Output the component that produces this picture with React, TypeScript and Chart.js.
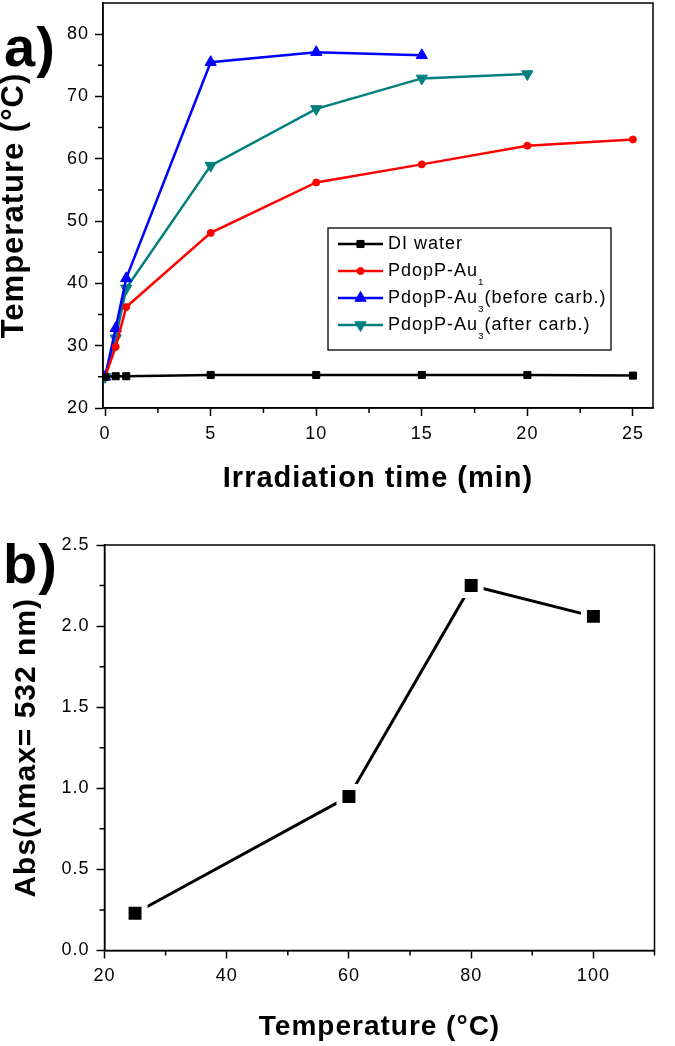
import React, { useEffect, useRef } from 'react';
import { Chart, registerables } from 'chart.js';

Chart.register(...registerables);

// ---------- Panel a data ----------
const TIME_MIN = [0, 0.5, 1, 5, 10, 15, 20, 25];
const DI_WATER = [25.0, 25.1, 25.1, 25.3, 25.3, 25.3, 25.3, 25.2];
const PDOPP_AU1 = [25.0, 29.8, 36.2, 48.1, 56.2, 59.1, 62.1, 63.1];
const TIME_AU3_BEFORE = [0, 0.5, 1, 5, 10, 15];
const PDOPP_AU3_BEFORE = [25.0, 32.8, 40.8, 75.5, 77.1, 76.6];
const TIME_AU3_AFTER = [0, 0.5, 1, 5, 10, 15, 20];
const PDOPP_AU3_AFTER = [25.0, 31.2, 39.2, 58.9, 68.0, 72.9, 73.6];
const SERIES_A_LABELS = ['DI water', 'PdopP-Au\u2081', 'PdopP-Au\u2083(before carb.)', 'PdopP-Au\u2083(after carb.)'];
const XA_TICKS = [0, 5, 10, 15, 20, 25];
const XA_MINOR = [2.5, 7.5, 12.5, 17.5, 22.5];
const YA_TICKS = [20, 30, 40, 50, 60, 70, 80];
const YA_MINOR = [25, 35, 45, 55, 65, 75];

// ---------- Panel b data ----------
const TEMP_C = [25, 60, 80, 100];
const ABS_532 = [0.23, 0.95, 2.25, 2.06];
const XB_TICKS = [20, 40, 60, 80, 100];
const XB_MINOR = [30, 50, 70, 90, 110];
const YB_TICKS = [0, 0.5, 1.0, 1.5, 2.0, 2.5];
const YB_MINOR = [0.25, 0.75, 1.25, 1.75, 2.25];

const FONT = '"Liberation Sans", Arial, Helvetica, sans-serif';
Chart.defaults.font.family = FONT;
Chart.defaults.color = '#000';

const pts = (xs: number[], ys: number[]) => xs.map((x, i) => ({ x, y: ys[i] }));

function drawMarker(ctx: CanvasRenderingContext2D, style: string, r: number, rotDeg: number, x: number, y: number, color: string) {
  ctx.save();
  ctx.fillStyle = color;
  ctx.strokeStyle = color;
  ctx.lineWidth = 1;
  ctx.beginPath();
  if (style === 'rect') {
    const s = r * Math.SQRT1_2;
    ctx.rect(x - s, y - s, 2 * s, 2 * s);
  } else if (style === 'triangle') {
    let rad = (rotDeg * Math.PI) / 180;
    ctx.moveTo(x + Math.sin(rad) * r, y - Math.cos(rad) * r);
    rad += (2 * Math.PI) / 3;
    ctx.lineTo(x + Math.sin(rad) * r, y - Math.cos(rad) * r);
    rad += (2 * Math.PI) / 3;
    ctx.lineTo(x + Math.sin(rad) * r, y - Math.cos(rad) * r);
    ctx.closePath();
  } else {
    ctx.arc(x, y, r, 0, Math.PI * 2);
  }
  ctx.fill();
  ctx.stroke();
  ctx.restore();
}

function drawRich(ctx: CanvasRenderingContext2D, text: string, x: number, y: number, size: number) {
  const runs: { t: string; sub: boolean }[] = [];
  let cur = '';
  let sub = false;
  for (const ch of text) {
    const code = ch.charCodeAt(0);
    const isSub = code >= 0x2080 && code <= 0x2089;
    const c = isSub ? String.fromCharCode(code - 0x2080 + 48) : ch;
    if (isSub !== sub && cur) {
      runs.push({ t: cur, sub });
      cur = '';
    }
    sub = isSub;
    cur += c;
  }
  if (cur) runs.push({ t: cur, sub });
  let cx = x;
  ctx.textAlign = 'left';
  ctx.textBaseline = 'middle';
  ctx.fillStyle = '#000';
  for (const r of runs) {
    ctx.font = `${r.sub ? size * 0.55 : size}px ${FONT}`;
    ctx.fillText(r.t, cx, r.sub ? y + size * 0.6 : y);
    cx += ctx.measureText(r.t).width;
  }
}

type FigOpts = {
  xMinor: number[];
  yMinor: number[];
  panel: { text: string; x: number; y: number; size: number };
  legend?: { x: number; y: number; w: number; h: number; firstRow: number; rowH: number; font: number };
};

function makeFigPlugin(o: FigOpts) {
  return {
    id: 'figStyle',
    beforeDraw(chart: any) {
      (chart.ctx as any).letterSpacing = '1px';
    },
    beforeDatasetsDraw(chart: any) {
      const { ctx, chartArea: ca } = chart;
      const xs = chart.scales.x;
      const ys = chart.scales.y;
      ctx.save();
      ctx.strokeStyle = '#000';
      ctx.lineWidth = 1.5;
      ctx.strokeRect(ca.left, ca.top, ca.right - ca.left, ca.bottom - ca.top);
      ctx.beginPath();
      o.xMinor.forEach((v) => {
        const p = xs.getPixelForValue(v);
        ctx.moveTo(p, ca.bottom);
        ctx.lineTo(p, ca.bottom + 5);
      });
      o.yMinor.forEach((v) => {
        const p = ys.getPixelForValue(v);
        ctx.moveTo(ca.left, p);
        ctx.lineTo(ca.left - 5, p);
      });
      ctx.stroke();
      ctx.fillStyle = '#000';
      ctx.font = `bold ${o.panel.size}px ${FONT}`;
      ctx.textAlign = 'left';
      ctx.textBaseline = 'alphabetic';
      ctx.fillText(o.panel.text, o.panel.x, o.panel.y);
      ctx.restore();
    },
    afterDatasetsDraw(chart: any) {
      const lg = o.legend;
      if (!lg) return;
      const ctx = chart.ctx as CanvasRenderingContext2D;
      ctx.save();
      ctx.fillStyle = '#fff';
      ctx.fillRect(lg.x, lg.y, lg.w, lg.h);
      ctx.strokeStyle = '#000';
      ctx.lineWidth = 1.3;
      ctx.strokeRect(lg.x, lg.y, lg.w, lg.h);
      chart.data.datasets.forEach((ds: any, i: number) => {
        const cy = lg.y + lg.firstRow + i * lg.rowH;
        ctx.strokeStyle = ds.borderColor;
        ctx.lineWidth = ds.borderWidth;
        ctx.beginPath();
        ctx.moveTo(lg.x + 10, cy);
        ctx.lineTo(lg.x + 55, cy);
        ctx.stroke();
        drawMarker(ctx, ds.pointStyle, ds.pointRadius, ds.pointRotation || 0, lg.x + 32.5, cy, ds.borderColor);
        drawRich(ctx, ds.label, lg.x + 60, cy, lg.font);
      });
      ctx.restore();
    },
  };
}

const gridOpts = {
  display: true,
  drawOnChartArea: false,
  drawTicks: true,
  tickLength: 8,
  tickWidth: 1.5,
  tickColor: '#000',
  color: '#000',
};
const borderOpts = { display: true, color: '#000', width: 1.5 };

const fixX = (h: number) => (s: any) => {
  s.height = h;
  s.paddingLeft = 0;
  s.paddingRight = 0;
};
const fixY = (w: number) => (s: any) => {
  s.width = w;
  s.paddingTop = 0;
  s.paddingBottom = 0;
};

function configA(): any {
  const lineDs = (label: string, data: any[], color: string, style: string, radius: number, rot = 0) => ({
    label,
    data,
    borderColor: color,
    backgroundColor: color,
    borderWidth: 2.5,
    pointStyle: style,
    pointRadius: radius,
    pointRotation: rot,
    pointBackgroundColor: color,
    pointBorderColor: color,
    pointBorderWidth: 1,
    tension: 0,
    fill: false,
  });
  return {
    type: 'line',
    data: {
      datasets: [
        lineDs(SERIES_A_LABELS[0], pts(TIME_MIN, DI_WATER), '#000000', 'rect', 5),
        lineDs(SERIES_A_LABELS[1], pts(TIME_MIN, PDOPP_AU1), '#ff0000', 'circle', 3.5),
        lineDs(SERIES_A_LABELS[2], pts(TIME_AU3_BEFORE, PDOPP_AU3_BEFORE), '#0000ff', 'triangle', 6.5),
        lineDs(SERIES_A_LABELS[3], pts(TIME_AU3_AFTER, PDOPP_AU3_AFTER), '#007f7f', 'triangle', 6.5, 180),
      ],
    },
    options: {
      responsive: false,
      animation: false,
      devicePixelRatio: 1,
      layout: { autoPadding: false, padding: { left: 0, top: 3, right: 22, bottom: 0 } },
      plugins: { legend: { display: false }, tooltip: { enabled: false } },
      scales: {
        x: {
          type: 'linear',
          min: -0.1,
          max: 25.95,
          afterBuildTicks: (s: any) => {
            s.ticks = XA_TICKS.map((v) => ({ value: v }));
          },
          afterFit: fixX(112),
          ticks: { font: { size: 18 }, color: '#000', padding: 7, maxRotation: 0, autoSkip: false, callback: (v: any) => String(v) },
          grid: gridOpts,
          border: borderOpts,
          title: {
            display: true,
            text: 'Irradiation time (min)',
            color: '#000',
            font: { size: 29, weight: 'bold', lineHeight: 1 },
            padding: { top: 0, bottom: 27 },
          },
        },
        y: {
          type: 'linear',
          min: 20,
          max: 85,
          afterBuildTicks: (s: any) => {
            s.ticks = YA_TICKS.map((v) => ({ value: v }));
          },
          afterFit: fixY(103),
          ticks: { font: { size: 18 }, color: '#000', padding: 6, autoSkip: false, callback: (v: any) => String(v) },
          grid: gridOpts,
          border: borderOpts,
          title: {
            display: true,
            text: 'Temperature (\u00B0C)',
            color: '#000',
            font: { size: 31, weight: 'bold', lineHeight: 1 },
            padding: { top: -1, bottom: 0 },
          },
        },
      },
    },
    plugins: [
      makeFigPlugin({
        xMinor: XA_MINOR,
        yMinor: YA_MINOR,
        panel: { text: 'a)', x: 4, y: 66, size: 56 },
        legend: { x: 328, y: 228, w: 283, h: 122, firstRow: 16, rowH: 27, font: 18 },
      }),
    ],
  };
}

function configB(): any {
  return {
    type: 'line',
    data: {
      datasets: [
        {
          label: 'Abs',
          data: pts(TEMP_C, ABS_532),
          borderColor: '#000',
          borderWidth: 3,
          pointStyle: 'rect',
          pointRadius: 13.4,
          pointBackgroundColor: '#000',
          pointBorderColor: '#fff',
          pointBorderWidth: 6,
          tension: 0,
          fill: false,
        },
      ],
    },
    options: {
      responsive: false,
      animation: false,
      devicePixelRatio: 1,
      layout: { autoPadding: false, padding: { left: 0, top: 25, right: 20.5, bottom: 0 } },
      plugins: { legend: { display: false }, tooltip: { enabled: false } },
      scales: {
        x: {
          type: 'linear',
          min: 20,
          max: 110,
          afterBuildTicks: (s: any) => {
            s.ticks = XB_TICKS.map((v) => ({ value: v }));
          },
          afterFit: fixX(95.5),
          ticks: { font: { size: 18 }, color: '#000', padding: 7, maxRotation: 0, autoSkip: false, callback: (v: any) => String(v) },
          grid: gridOpts,
          border: borderOpts,
          title: {
            display: true,
            text: 'Temperature (\u00B0C)',
            color: '#000',
            font: { size: 28, weight: 'bold', lineHeight: 1 },
            padding: { top: 0, bottom: 5 },
          },
        },
        y: {
          type: 'linear',
          min: 0,
          max: 2.5,
          afterBuildTicks: (s: any) => {
            s.ticks = YB_TICKS.map((v) => ({ value: v }));
          },
          afterFit: fixY(104.5),
          ticks: { font: { size: 18 }, color: '#000', padding: 7, autoSkip: false, callback: (v: any) => Number(v).toFixed(1) },
          grid: gridOpts,
          border: borderOpts,
          title: {
            display: true,
            text: 'Abs(\u03BBmax= 532 nm)',
            color: '#000',
            font: { size: 30, weight: 'bold', lineHeight: 1 },
            padding: { top: 11.5, bottom: 0 },
          },
        },
      },
    },
    plugins: [
      makeFigPlugin({
        xMinor: XB_MINOR,
        yMinor: YB_MINOR,
        panel: { text: 'b)', x: 3, y: 63, size: 56 },
      }),
    ],
  };
}

export default function App() {
  const refA = useRef<HTMLCanvasElement>(null);
  const refB = useRef<HTMLCanvasElement>(null);
  useEffect(() => {
    const a = new Chart(refA.current as HTMLCanvasElement, configA());
    const b = new Chart(refB.current as HTMLCanvasElement, configB());
    return () => {
      a.destroy();
      b.destroy();
    };
  }, []);
  return (
    <div style={{ position: 'absolute', left: 0, top: 0, width: 675, height: 1046, background: '#fff' }}>
      <canvas ref={refA} width={675} height={520} style={{ display: 'block', width: 675, height: 520 }} />
      <canvas ref={refB} width={675} height={526} style={{ display: 'block', width: 675, height: 526 }} />
    </div>
  );
}
